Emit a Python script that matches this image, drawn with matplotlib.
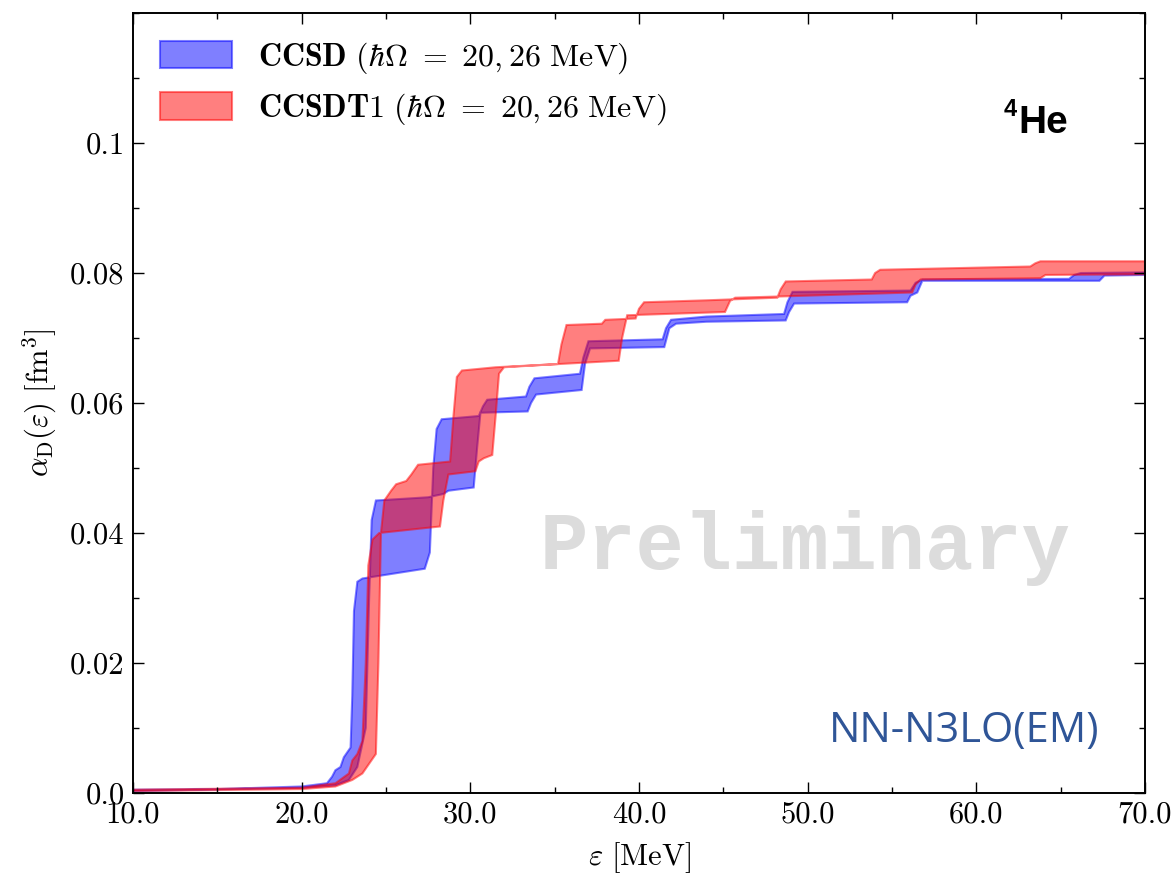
import numpy as np
import matplotlib
matplotlib.use("Agg")
import matplotlib.pyplot as plt
from matplotlib.ticker import FixedLocator, FixedFormatter, MultipleLocator

plt.rcParams['font.family'] = 'serif'
plt.rcParams['font.serif'] = ['cmr10']
plt.rcParams['mathtext.fontset'] = 'cm'
plt.rcParams['axes.unicode_minus'] = False

# CCSD, the two hbar*Omega curves (energy in MeV, alpha_D in fm^3)
ccsd_a_e = [10, 15, 20, 21.5, 21.8, 22.0, 22.3, 22.5, 22.9, 23.0, 23.1, 23.3, 23.6,
            27.3, 27.6, 27.8, 28.0, 28.3, 30.5, 30.75, 31.0, 33.3, 33.5, 33.8,
            36.5, 36.7, 37.0, 41.4, 41.6, 41.9, 44.0, 48.6, 48.8, 49.1,
            56.1, 56.4, 56.8, 65.5, 65.8, 66.2, 70]
ccsd_a_v = [0.0005, 0.0006, 0.001, 0.0015, 0.0025, 0.0035, 0.004, 0.0055, 0.007, 0.015, 0.028, 0.0325, 0.033,
            0.0345, 0.037, 0.05, 0.056, 0.0575, 0.058, 0.0595, 0.0605, 0.061, 0.0625, 0.0638,
            0.0645, 0.067, 0.0695, 0.0698, 0.0715, 0.0728, 0.0733, 0.0737, 0.0755, 0.0771,
            0.0773, 0.0785, 0.079, 0.0791, 0.0797, 0.080, 0.0801]

ccsd_b_e = [10, 20, 22.0, 22.8, 23.3, 23.8, 24.0, 24.15, 24.4, 27.5, 28.4, 28.7,
            30.2, 30.4, 30.6, 33.4, 33.6, 33.9, 36.6, 36.8, 37.1, 41.5, 41.8, 42.2,
            44.0, 48.7, 48.9, 49.2, 55.9, 56.1, 56.5, 56.8, 67.3, 67.6, 70]
ccsd_b_v = [0.0003, 0.0008, 0.0012, 0.002, 0.004, 0.01, 0.03, 0.042, 0.045, 0.0455, 0.046, 0.0465,
            0.047, 0.053, 0.0585, 0.0587, 0.060, 0.0613, 0.062, 0.066, 0.0684, 0.0686, 0.0715, 0.0722,
            0.0725, 0.0727, 0.074, 0.0753, 0.0755, 0.0765, 0.077, 0.0788, 0.0788, 0.0796, 0.0797]

# CCSDT1, the two hbar*Omega curves
ccsdt1_a_e = [10, 20, 22.0, 22.8, 23.0, 23.3, 23.6, 23.8, 23.95, 24.2, 24.6,
              28.2, 28.4, 28.7, 30.3, 30.5, 30.8, 31.3, 31.5, 31.7, 32.0,
              35.2, 35.4, 35.7, 37.8, 38.0, 39.8, 40.0, 40.3, 44.0,
              48.2, 48.4, 48.7, 53.8, 54.0, 54.3, 63.2, 63.5, 63.8, 70]
ccsdt1_a_v = [0.0005, 0.0008, 0.0015, 0.003, 0.005, 0.006, 0.008, 0.02, 0.035, 0.039, 0.040,
              0.041, 0.045, 0.049, 0.0495, 0.051, 0.0515, 0.052, 0.058, 0.0645, 0.0655,
              0.066, 0.069, 0.072, 0.0722, 0.0728, 0.073, 0.0745, 0.0755, 0.0758,
              0.0762, 0.0775, 0.0787, 0.079, 0.080, 0.0805, 0.081, 0.0815, 0.0818, 0.0818]

ccsdt1_b_e = [10, 20, 22.0, 23.0, 23.6, 24.0, 24.4, 24.55, 24.7, 24.9, 25.3, 25.6, 26.2,
              26.5, 26.9, 28.8, 29.0, 29.2, 29.5, 31.5, 35.3, 38.8, 39.0, 39.3,
              45.1, 45.4, 45.7, 48.5, 56.2, 56.4, 56.7, 63.8, 64.1, 70]
ccsdt1_b_v = [0.0003, 0.0006, 0.001, 0.002, 0.003, 0.0045, 0.006, 0.02, 0.04, 0.045, 0.0465, 0.0475, 0.048,
              0.049, 0.0505, 0.051, 0.058, 0.064, 0.065, 0.0655, 0.066, 0.0665, 0.070, 0.0735,
              0.074, 0.0757, 0.0762, 0.0764, 0.077, 0.0782, 0.079, 0.0792, 0.0797, 0.0798]

y_ticks = [0.0, 0.02, 0.04, 0.06, 0.08, 0.1]
y_tick_labels = ["0.0", "0.02", "0.04", "0.06", "0.08", "0.1"]
x_ticks = [10, 20, 30, 40, 50, 60, 70]
x_tick_labels = ["10.0", "20.0", "30.0", "40.0", "50.0", "60.0", "70.0"]

fig = plt.figure(figsize=(11.73, 8.74), dpi=100)
ax = fig.add_axes([0.1134, 0.0927, 0.8627, 0.8924])


def band(ax, e1, v1, e2, v2, color, label):
    xs = np.concatenate([e1, e2[::-1]])
    ys = np.concatenate([v1, v2[::-1]])
    ax.fill(xs, ys, facecolor=color, edgecolor=color, alpha=0.5, lw=1.5, label=label)


band(ax, np.array(ccsd_a_e), np.array(ccsd_a_v), np.array(ccsd_b_e), np.array(ccsd_b_v),
     'b', r'$\mathbf{CCSD}\ (\hbar\Omega\ =\ 20, 26\ \mathrm{MeV})$')
band(ax, np.array(ccsdt1_a_e), np.array(ccsdt1_a_v), np.array(ccsdt1_b_e), np.array(ccsdt1_b_v),
     'r', r'$\mathbf{CCSDT1}\ (\hbar\Omega\ =\ 20, 26\ \mathrm{MeV})$')

ax.set_xlim(10, 70)
ax.set_ylim(0, 0.12)
ax.xaxis.set_major_locator(FixedLocator(x_ticks))
ax.xaxis.set_major_formatter(FixedFormatter(x_tick_labels))
ax.xaxis.set_minor_locator(MultipleLocator(5))
ax.yaxis.set_major_locator(FixedLocator(y_ticks))
ax.yaxis.set_major_formatter(FixedFormatter(y_tick_labels))
ax.yaxis.set_minor_locator(MultipleLocator(0.01))
ax.tick_params(which='both', direction='in', top=True, right=True, labelsize=22, pad=6)
ax.tick_params(which='major', length=8, width=1)
ax.tick_params(which='minor', length=4, width=1)
for s in ax.spines.values():
    s.set_linewidth(1.4)

ax.set_xlabel(r'$\varepsilon\ [\mathrm{MeV}]$', fontsize=22, labelpad=8)
ax.set_ylabel(r'$\alpha_{\mathrm{D}}(\varepsilon)\ [\mathrm{fm}^3]$', fontsize=22, labelpad=8)

ax.legend(loc='upper left', frameon=False, fontsize=23, handlelength=2.25, handleheight=0.95,
          labelspacing=0.5, borderaxespad=0.45, handletextpad=0.8)

ax.text(0.664, 0.314, 'Preliminary', transform=ax.transAxes, ha='center', va='center',
        family='Liberation Mono', fontweight='bold', fontsize=58, color='#dcdcdc', zorder=0)
ax.text(0.875, 0.846, 'He', transform=ax.transAxes, ha='left', va='baseline',
        family='Liberation Sans', fontweight='bold', fontsize=28, color='black')
ax.text(0.860, 0.868, '4', transform=ax.transAxes, ha='left', va='baseline',
        family='Liberation Sans', fontweight='bold', fontsize=17, color='black')
ax.text(0.955, 0.065, 'NN-N3LO(EM)', transform=ax.transAxes, ha='right', va='baseline',
        family='Open Sans', fontsize=30, color='#2f5597')

fig.savefig('out.png', dpi=100)
